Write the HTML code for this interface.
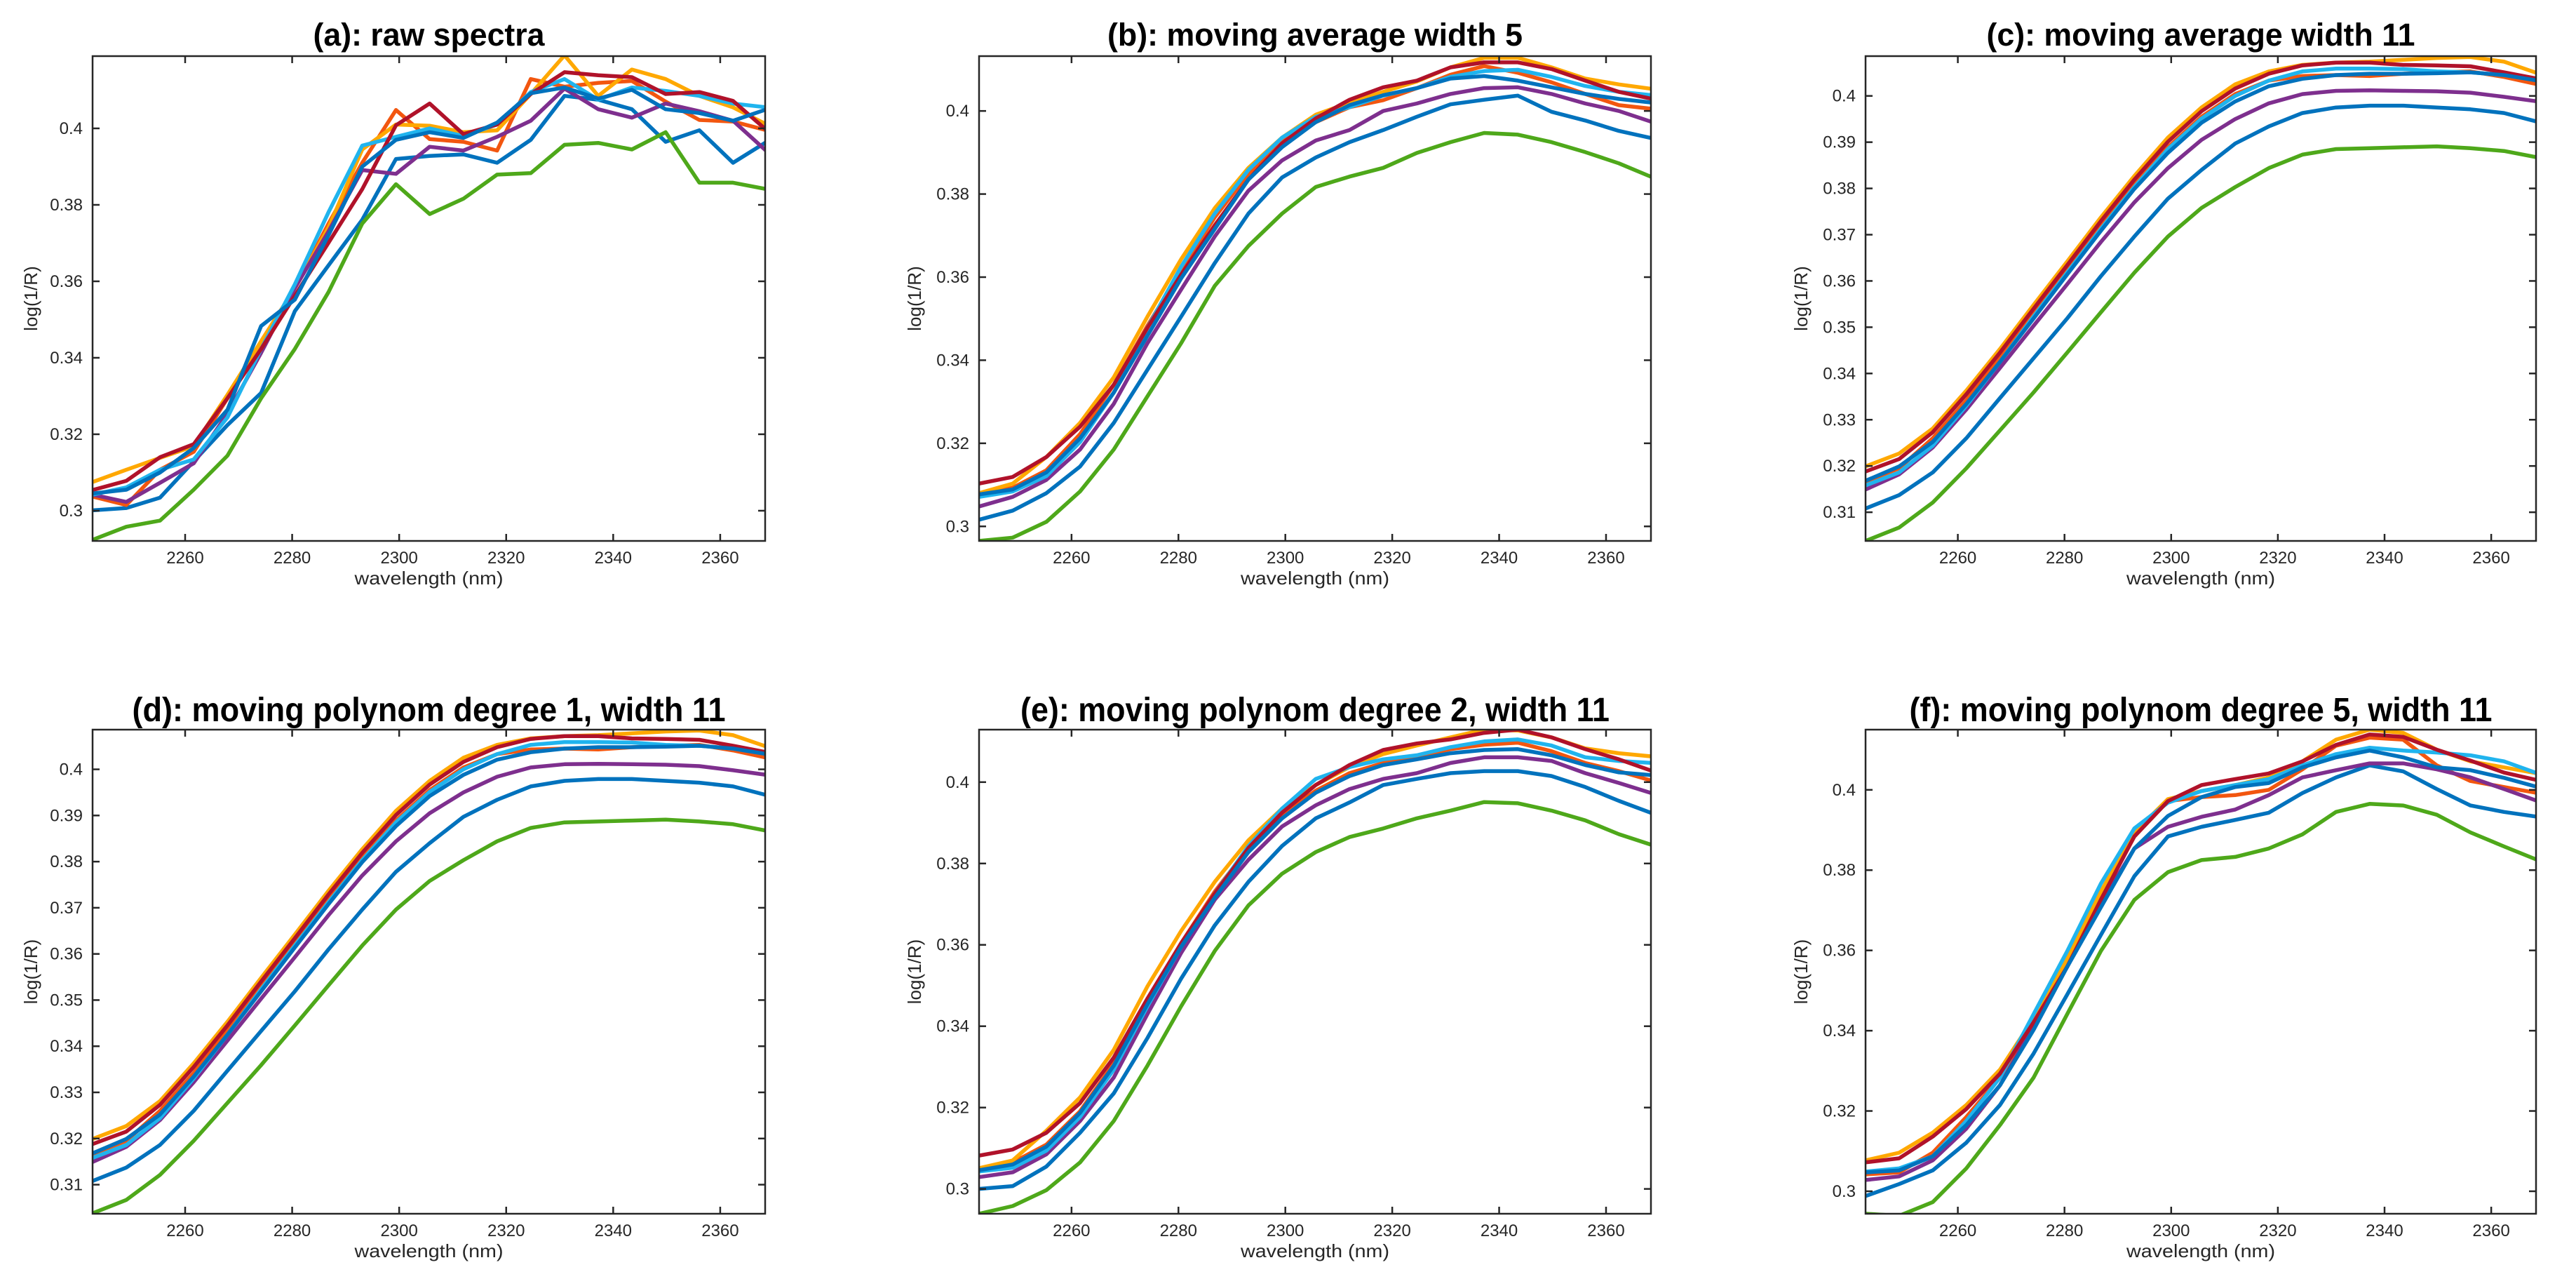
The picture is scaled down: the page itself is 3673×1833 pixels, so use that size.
<!DOCTYPE html>
<html><head><meta charset="utf-8"><title>Spectra smoothing comparison</title>
<style>
html,body{margin:0;padding:0;background:#fff;}
svg{display:block;font-family:"Liberation Sans",Arial,sans-serif;}
</style></head>
<body>
<svg id="fig" width="3673" height="1833" viewBox="0 0 3673 1833" xmlns="http://www.w3.org/2000/svg"></svg>
<script>
// ---------- data ----------
const wavelengths = [2242.7,2249.0,2255.3,2261.6,2267.9,2274.2,2280.5,2286.8,2293.1,2299.4,2305.7,2312.0,2318.3,2324.6,2330.9,2337.2,2343.5,2349.8,2356.1,2362.4,2368.7];
const xTicks = [2260,2280,2300,2320,2340,2360];
const yTicksA = [0.3,0.32,0.34,0.36,0.38,0.4];
const yTicksC = [0.31,0.32,0.33,0.34,0.35,0.36,0.37,0.38,0.39,0.4];
const yTickLabelsA = ["0.3","0.32","0.34","0.36","0.38","0.4"];
const yTickLabelsC = ["0.31","0.32","0.33","0.34","0.35","0.36","0.37","0.38","0.39","0.4"];
const seriesNames = ["blue-1","orange-red","yellow","purple","green","cyan","dark-red","blue-2"];
const titles = ["(a): raw spectra","(b): moving average width 5","(c): moving average width 11","(d): moving polynom degree 1, width 11","(e): moving polynom degree 2, width 11","(f): moving polynom degree 5, width 11"];

// panel (a) raw
const rawBlue1=[0.3001,0.3007,0.3034,0.3129,0.3224,0.3308,0.3522,0.3642,0.3761,0.392,0.3928,0.3932,0.391,0.397,0.4085,0.4075,0.405,0.3965,0.3995,0.391,0.3965];
const rawOrangeRed=[0.3037,0.3015,0.3107,0.3154,0.3294,0.3443,0.3582,0.3751,0.391,0.4048,0.3972,0.3965,0.3942,0.4129,0.4109,0.4119,0.4124,0.407,0.4022,0.4018,0.3995];
const rawYellow=[0.3075,0.3107,0.3138,0.3169,0.3303,0.3443,0.3582,0.3741,0.3945,0.401,0.4007,0.399,0.3995,0.409,0.4191,0.4085,0.4154,0.4129,0.4085,0.4055,0.401];
const rawPurple=[0.3042,0.3023,0.3073,0.3124,0.3254,0.3413,0.3582,0.3731,0.3891,0.3881,0.3952,0.3942,0.3978,0.402,0.4104,0.405,0.4028,0.4065,0.4045,0.402,0.394];
const rawGreen=[0.2924,0.2958,0.2974,0.3055,0.3144,0.3294,0.3423,0.3572,0.3751,0.3854,0.3776,0.3816,0.3879,0.3883,0.3957,0.3962,0.3945,0.399,0.3858,0.3858,0.3841];
const rawCyan=[0.3042,0.3061,0.3107,0.3134,0.3244,0.3423,0.3592,0.3781,0.3955,0.3978,0.4,0.398,0.401,0.4095,0.4129,0.4075,0.4107,0.4098,0.4085,0.4065,0.4055];
const rawDarkRed=[0.3054,0.3078,0.314,0.3174,0.3294,0.3423,0.3562,0.3701,0.3841,0.4008,0.4065,0.3985,0.401,0.409,0.4147,0.4139,0.4134,0.409,0.4095,0.4072,0.3995];
const rawBlue2=[0.3045,0.3055,0.31,0.3164,0.3264,0.3483,0.3552,0.3721,0.39,0.397,0.399,0.3975,0.4015,0.4092,0.4107,0.4078,0.4101,0.405,0.404,0.402,0.405];

// panel (b) moving average 5
const ma5Blue1=[0.3016,0.3038,0.308,0.3144,0.3249,0.3377,0.3505,0.3634,0.3753,0.384,0.3888,0.3925,0.3954,0.3986,0.4016,0.4027,0.4037,0.3998,0.3977,0.3952,0.3934];
const ma5OrangeRed=[0.3075,0.3093,0.3135,0.3222,0.3341,0.3483,0.3615,0.3744,0.3849,0.3927,0.3973,0.4009,0.4026,0.4055,0.4087,0.4108,0.4092,0.4069,0.4041,0.4014,0.4005];
const ma5Yellow=[0.308,0.3103,0.3167,0.3249,0.3359,0.3505,0.3643,0.3766,0.3863,0.3936,0.3991,0.402,0.4046,0.4071,0.4105,0.4128,0.4128,0.4105,0.4078,0.4064,0.4053];
const ma5Purple=[0.3048,0.3071,0.3112,0.3185,0.3295,0.3441,0.357,0.3698,0.3808,0.3881,0.3929,0.3954,0.4,0.4018,0.4041,0.4055,0.4057,0.4041,0.4018,0.4,0.3973];
const ma5Green=[0.2965,0.2973,0.3011,0.3084,0.3185,0.3313,0.3441,0.3579,0.3675,0.3753,0.3817,0.3842,0.3863,0.3899,0.3925,0.3947,0.3943,0.3925,0.3901,0.3874,0.384];
const ma5Cyan=[0.3071,0.3084,0.3121,0.3203,0.3322,0.3478,0.3625,0.3753,0.3858,0.3936,0.3986,0.4009,0.4037,0.4055,0.4082,0.4096,0.4099,0.4082,0.406,0.4046,0.4038];
const ma5DarkRed=[0.3103,0.3119,0.3167,0.324,0.3341,0.3478,0.3606,0.3725,0.3835,0.3922,0.3982,0.4027,0.4057,0.4073,0.4105,0.4117,0.4117,0.4101,0.4073,0.4046,0.4029];
const ma5Blue2=[0.3077,0.3089,0.313,0.3212,0.3322,0.3459,0.3597,0.3716,0.3835,0.3913,0.3973,0.4014,0.4038,0.4055,0.4078,0.4084,0.4073,0.4057,0.4041,0.4029,0.402];

// panel (c) moving average 11
const ma11Blue1=[0.3108,0.3137,0.3186,0.326,0.3347,0.3433,0.3519,0.361,0.3696,0.3778,0.384,0.3897,0.3934,0.3963,0.3975,0.3979,0.3979,0.3975,0.3971,0.3963,0.3944];
const ma11OrangeRed=[0.3166,0.3195,0.326,0.3342,0.3433,0.3527,0.3622,0.3716,0.3807,0.3889,0.3955,0.4004,0.4033,0.4043,0.4045,0.4043,0.4048,0.4051,0.4053,0.4041,0.4025];
const ma11Yellow=[0.3199,0.3227,0.3281,0.3363,0.3453,0.3548,0.3642,0.3737,0.3827,0.391,0.3975,0.4025,0.4053,0.4067,0.4072,0.4074,0.4078,0.4082,0.4084,0.4074,0.4049];
const ma11Purple=[0.3149,0.3182,0.324,0.3322,0.3412,0.3503,0.3593,0.3684,0.377,0.3844,0.3905,0.395,0.3984,0.4004,0.4011,0.4012,0.4011,0.401,0.4007,0.3998,0.3988];
const ma11Green=[0.3038,0.3067,0.3121,0.3195,0.3277,0.3359,0.3445,0.3532,0.3618,0.3696,0.3758,0.3803,0.3844,0.3873,0.3885,0.3887,0.3889,0.3891,0.3887,0.3881,0.3867];
const ma11Cyan=[0.3158,0.3186,0.3244,0.333,0.3425,0.3523,0.3618,0.3712,0.3803,0.3885,0.3951,0.4,0.4033,0.4053,0.4059,0.4059,0.4058,0.4053,0.4051,0.4045,0.4035];
const ma11DarkRed=[0.3188,0.3215,0.3273,0.3355,0.3445,0.354,0.3634,0.3729,0.3819,0.3901,0.3967,0.4016,0.4048,0.4066,0.4072,0.4072,0.4067,0.4066,0.4064,0.4051,0.4037];
const ma11Blue2=[0.3168,0.3199,0.3252,0.3334,0.3425,0.3519,0.3614,0.3708,0.3799,0.3877,0.3942,0.3988,0.4021,0.4037,0.4045,0.4048,0.4048,0.4049,0.4051,0.4045,0.4033];

// panel (d) polynomial degree 1
const p1Blue1=[0.3108,0.3137,0.3186,0.326,0.3347,0.3433,0.3519,0.361,0.3696,0.3778,0.384,0.3897,0.3934,0.3963,0.3975,0.3979,0.3979,0.3975,0.3971,0.3963,0.3944];
const p1OrangeRed=[0.3166,0.3195,0.326,0.3342,0.3433,0.3527,0.3622,0.3716,0.3807,0.3889,0.3955,0.4004,0.4033,0.4043,0.4045,0.4043,0.4048,0.4051,0.4053,0.4041,0.4025];
const p1Yellow=[0.3199,0.3227,0.3281,0.3363,0.3453,0.3548,0.3642,0.3737,0.3827,0.391,0.3975,0.4025,0.4053,0.4067,0.4072,0.4074,0.4078,0.4082,0.4084,0.4074,0.4049];
const p1Purple=[0.3149,0.3182,0.324,0.3322,0.3412,0.3503,0.3593,0.3684,0.377,0.3844,0.3905,0.395,0.3984,0.4004,0.4011,0.4012,0.4011,0.401,0.4007,0.3998,0.3988];
const p1Green=[0.3038,0.3067,0.3121,0.3195,0.3277,0.3359,0.3445,0.3532,0.3618,0.3696,0.3758,0.3803,0.3844,0.3873,0.3885,0.3887,0.3889,0.3891,0.3887,0.3881,0.3867];
const p1Cyan=[0.3158,0.3186,0.3244,0.333,0.3425,0.3523,0.3618,0.3712,0.3803,0.3885,0.3951,0.4,0.4033,0.4053,0.4059,0.4059,0.4058,0.4053,0.4051,0.4045,0.4035];
const p1DarkRed=[0.3188,0.3215,0.3273,0.3355,0.3445,0.354,0.3634,0.3729,0.3819,0.3901,0.3967,0.4016,0.4048,0.4066,0.4072,0.4072,0.4067,0.4066,0.4064,0.4051,0.4037];
const p1Blue2=[0.3168,0.3199,0.3252,0.3334,0.3425,0.3519,0.3614,0.3708,0.3799,0.3877,0.3942,0.3988,0.4021,0.4037,0.4045,0.4048,0.4048,0.4049,0.4051,0.4045,0.4033];

// panel (e) polynomial degree 2
const p2Blue1=[0.3,0.3007,0.3055,0.3138,0.3235,0.3371,0.3517,0.3648,0.3755,0.3843,0.3911,0.395,0.3993,0.4008,0.4022,0.4027,0.4027,0.4015,0.3988,0.3954,0.3923];
const p2OrangeRed=[0.3051,0.3065,0.3109,0.3191,0.3308,0.3464,0.3604,0.3731,0.3838,0.392,0.3979,0.4022,0.4047,0.4063,0.4081,0.4092,0.4097,0.4076,0.4047,0.4027,0.4003];
const p2Yellow=[0.3051,0.307,0.3143,0.3225,0.3342,0.3498,0.3634,0.3755,0.3857,0.3935,0.3993,0.4037,0.4069,0.409,0.411,0.4129,0.4127,0.411,0.4083,0.4071,0.4063];
const p2Purple=[0.3029,0.3041,0.3085,0.3167,0.3274,0.343,0.358,0.3711,0.3809,0.3891,0.3943,0.3983,0.4008,0.4022,0.4047,0.4061,0.4061,0.4052,0.4022,0.3998,0.3972];
const p2Green=[0.2939,0.2958,0.2997,0.3065,0.3167,0.3303,0.3449,0.3585,0.3697,0.3775,0.3828,0.3865,0.3886,0.3911,0.393,0.3951,0.3948,0.393,0.3906,0.3872,0.3845];
const p2Cyan=[0.3043,0.3052,0.3094,0.3177,0.3293,0.3449,0.3595,0.3726,0.3843,0.3935,0.4008,0.4037,0.4056,0.4066,0.4086,0.41,0.4105,0.409,0.4061,0.4052,0.4047];
const p2DarkRed=[0.3082,0.3097,0.3138,0.3211,0.3323,0.3468,0.3604,0.3726,0.3838,0.3925,0.3993,0.4042,0.4079,0.4095,0.4105,0.4121,0.4129,0.411,0.4081,0.4056,0.4027];
const p2Blue2=[0.3046,0.306,0.3104,0.3187,0.3303,0.3454,0.3595,0.3716,0.3828,0.3911,0.3974,0.4015,0.4042,0.4056,0.4071,0.4079,0.4081,0.4066,0.4042,0.4024,0.4017];

// panel (f) polynomial degree 5
const p5Blue1=[0.2988,0.3018,0.3052,0.3121,0.3215,0.3343,0.349,0.3638,0.3785,0.3884,0.3908,0.3925,0.3943,0.3992,0.4031,0.4061,0.4046,0.4002,0.3961,0.3945,0.3933];
const p5OrangeRed=[0.3042,0.3047,0.3096,0.3185,0.3283,0.3421,0.3569,0.3736,0.3884,0.3972,0.3982,0.3987,0.4,0.4051,0.411,0.413,0.4125,0.4061,0.4022,0.4007,0.3992];
const p5Yellow=[0.3077,0.3096,0.3146,0.3215,0.3303,0.3431,0.3579,0.3746,0.3894,0.3977,0.3997,0.4012,0.4031,0.4071,0.4125,0.415,0.4142,0.41,0.4071,0.4056,0.4041];
const p5Purple=[0.3028,0.3037,0.3077,0.3156,0.3264,0.3411,0.3559,0.3717,0.3854,0.3908,0.3933,0.3951,0.3987,0.4031,0.4049,0.4066,0.4066,0.4051,0.4031,0.4002,0.3972];
const p5Green=[0.2944,0.2939,0.2973,0.3057,0.3165,0.3283,0.3441,0.3598,0.3726,0.3795,0.3825,0.3833,0.3854,0.3889,0.3945,0.3965,0.3961,0.3938,0.3894,0.3859,0.3825];
const p5Cyan=[0.3049,0.3057,0.3087,0.3175,0.3283,0.3441,0.3598,0.3766,0.3904,0.3968,0.3997,0.4012,0.4027,0.4061,0.4089,0.4105,0.4098,0.4093,0.4086,0.4071,0.4041];
const p5DarkRed=[0.3072,0.3082,0.3136,0.3205,0.3293,0.3421,0.3559,0.3726,0.3884,0.3972,0.4012,0.4027,0.4041,0.4071,0.4112,0.4138,0.4132,0.41,0.4073,0.4043,0.4024];
const p5Blue2=[0.3047,0.3052,0.3087,0.3165,0.3264,0.3402,0.3559,0.3707,0.3854,0.3935,0.3982,0.4007,0.4017,0.4056,0.4081,0.4098,0.4081,0.4056,0.4049,0.403,0.4007];

// ---------- layout / style ----------
const colors = ["#0072BD","#F2560F","#FFA800","#7E2F8E","#4EA81A","#20B4EE","#B0122A","#0072BD"];
const panels = [
  {id:"a",L:132,R:1091,T:80,B:771,ymin:0.2921,ymax:0.4189,ticks:yTicksA,labels:yTickLabelsA,ylx:44,
   series:[rawBlue1,rawOrangeRed,rawYellow,rawPurple,rawGreen,rawCyan,rawDarkRed,rawBlue2]},
  {id:"b",L:1396,R:2354,T:80,B:771,ymin:0.2965,ymax:0.4132,ticks:yTicksA,labels:yTickLabelsA,ylx:1304,
   series:[ma5Blue1,ma5OrangeRed,ma5Yellow,ma5Purple,ma5Green,ma5Cyan,ma5DarkRed,ma5Blue2]},
  {id:"c",L:2660,R:3616,T:80,B:771,ymin:0.3038,ymax:0.4086,ticks:yTicksC,labels:yTickLabelsC,ylx:2568,
   series:[ma11Blue1,ma11OrangeRed,ma11Yellow,ma11Purple,ma11Green,ma11Cyan,ma11DarkRed,ma11Blue2]},
  {id:"d",L:132,R:1091,T:1040,B:1730,ymin:0.3037,ymax:0.4086,ticks:yTicksC,labels:yTickLabelsC,ylx:44,
   series:[p1Blue1,p1OrangeRed,p1Yellow,p1Purple,p1Green,p1Cyan,p1DarkRed,p1Blue2]},
  {id:"e",L:1396,R:2354,T:1040,B:1730,ymin:0.2939,ymax:0.4129,ticks:yTicksA,labels:yTickLabelsA,ylx:1304,
   series:[p2Blue1,p2OrangeRed,p2Yellow,p2Purple,p2Green,p2Cyan,p2DarkRed,p2Blue2]},
  {id:"f",L:2660,R:3616,T:1040,B:1730,ymin:0.2944,ymax:0.415,ticks:yTicksA,labels:yTickLabelsA,ylx:2568,
   series:[p5Blue1,p5OrangeRed,p5Yellow,p5Purple,p5Green,p5Cyan,p5DarkRed,p5Blue2]}
];
const titleWidths = [330,592,611,846,840,831];
const titleSizes = [45,45,45,48,48,48];
const titleGaps = [15,15,15,12,12,12];
const XMIN = 2242.7, XMAX = 2368.4;

const NS = "http://www.w3.org/2000/svg";
const svg = document.getElementById("fig");
function mk(tag, attrs, parent){
  const e = document.createElementNS(NS, tag);
  for (const k in attrs) e.setAttribute(k, attrs[k]);
  parent.appendChild(e);
  return e;
}

panels.forEach((p, pi) => {
  const xs = v => p.L + (v - XMIN) / (XMAX - XMIN) * (p.R - p.L);
  const ys = v => p.B - (v - p.ymin) / (p.ymax - p.ymin) * (p.B - p.T);
  const g = mk("g", {}, svg);
  
  

  const cp = mk("clipPath", {id:"clip-" + p.id}, g);
  mk("rect", {x:p.L, y:p.T, width:p.R - p.L, height:p.B - p.T}, cp);

  const cx = (p.L + p.R) / 2;
  const t = mk("text", {x:cx, y:p.T - titleGaps[pi], "text-anchor":"middle", "font-size":titleSizes[pi], "font-weight":"bold", fill:"#000",
    textLength:titleWidths[pi], lengthAdjust:"spacingAndGlyphs"}, g);
  t.textContent = titles[pi];
  
  

  const lg = mk("g", {"clip-path":"url(#clip-" + p.id + ")"}, g);
  
  
  p.series.forEach((s, si) => {
    const d = s.map((v, i) => (i ? "L" : "M") + xs(wavelengths[i]).toFixed(1) + " " + ys(v).toFixed(1)).join(" ");
    const path = mk("path", {d:d, fill:"none", stroke:colors[si], "stroke-width":5.5, "stroke-linejoin":"round"}, lg);
    
    
  });

  const box = mk("rect", {x:p.L, y:p.T, width:p.R - p.L, height:p.B - p.T, fill:"none", stroke:"#262626", "stroke-width":2.5}, g);
  
  

  xTicks.forEach(v => {
    const x = xs(v);
    mk("line", {x1:x, y1:p.B, x2:x, y2:p.B - 10, stroke:"#262626", "stroke-width":2.5}, g);
    mk("line", {x1:x, y1:p.T, x2:x, y2:p.T + 10, stroke:"#262626", "stroke-width":2.5}, g);
    const tl = mk("text", {x:x, y:p.B + 32, "text-anchor":"middle", "font-size":24, fill:"#262626"}, g);
    tl.textContent = String(v);
    
    
  });
  p.ticks.forEach((v, i) => {
    const y = ys(v);
    mk("line", {x1:p.L, y1:y, x2:p.L + 10, y2:y, stroke:"#262626", "stroke-width":2.5}, g);
    mk("line", {x1:p.R, y1:y, x2:p.R - 10, y2:y, stroke:"#262626", "stroke-width":2.5}, g);
    const tl = mk("text", {x:p.L - 14, y:y + 8, "text-anchor":"end", "font-size":24, fill:"#262626"}, g);
    tl.textContent = p.labels[i];
    
    
  });

  const xl = mk("text", {x:cx, y:p.B + 62, "text-anchor":"middle", "font-size":26, fill:"#262626", textLength:212, lengthAdjust:"spacingAndGlyphs"}, g);
  xl.textContent = "wavelength (nm)";
  
  
  const cy = (p.T + p.B) / 2;
  const yl = mk("text", {x:p.ylx, y:cy, "text-anchor":"middle", "font-size":26, fill:"#262626",
    transform:"rotate(-90 " + (p.ylx) + " " + cy + ")", dy:"9"}, g);
  yl.textContent = "log(1/R)";
  
  
});
</script>
</body></html>
